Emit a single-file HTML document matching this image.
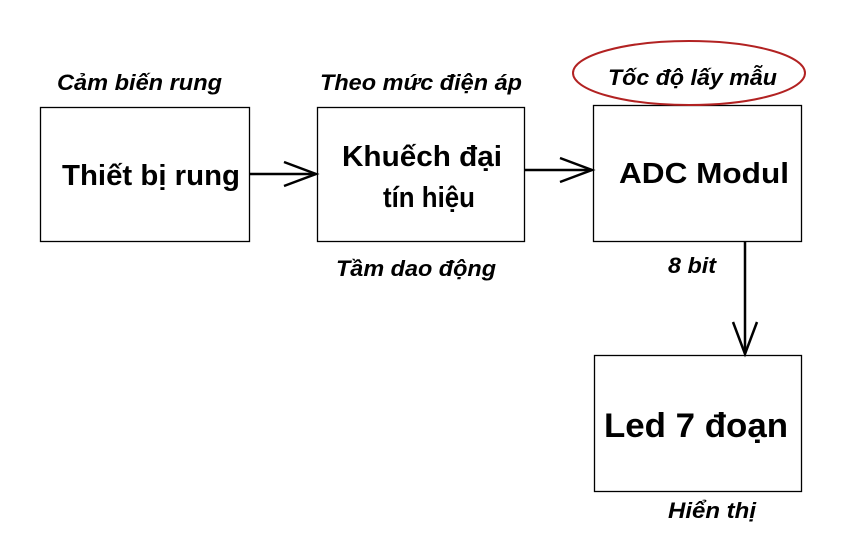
<!DOCTYPE html>
<html><head><meta charset="utf-8"><style>
body{margin:0;background:#fff;width:846px;height:554px;overflow:hidden}
svg{display:block}
.b{font-family:"Liberation Sans",sans-serif;font-weight:bold;font-size:29px;fill:#000}
.l{font-family:"Liberation Sans",sans-serif;font-weight:bold;font-style:italic;font-size:22px;fill:#000}
</style></head><body>
<svg width="846" height="554" viewBox="0 0 846 554">
<g fill="none" stroke="#000" stroke-width="1.3">
<rect x="40.5" y="107.5" width="209" height="134"/>
<rect x="317.5" y="107.5" width="207" height="134"/>
<rect x="593.5" y="105.5" width="208" height="136"/>
<rect x="594.5" y="355.5" width="207" height="136"/>
</g>
<g fill="none" stroke="#000" stroke-width="2.5">
<line x1="250" y1="174" x2="316" y2="174"/>
<polyline points="284,162 316,174 284,186"/>
<line x1="525" y1="170" x2="592" y2="170"/>
<polyline points="560,158 592,170 560,182"/>
<line x1="745" y1="242" x2="745" y2="354"/>
<polyline points="733,322 745,354 757,322"/>
</g>
<ellipse cx="689" cy="73" rx="116" ry="32" fill="none" stroke="#b22222" stroke-width="2"/>
<text class="l" x="57" y="90" textLength="165" lengthAdjust="spacingAndGlyphs">Cảm biến rung</text>
<text class="l" x="320" y="90" textLength="202" lengthAdjust="spacingAndGlyphs">Theo mức điện áp</text>
<text class="l" x="608" y="85" textLength="169" lengthAdjust="spacingAndGlyphs">Tốc độ lấy mẫu</text>
<text class="l" x="336" y="276" textLength="160" lengthAdjust="spacingAndGlyphs">Tầm dao động</text>
<text class="l" x="668" y="273" textLength="48" lengthAdjust="spacingAndGlyphs">8 bit</text>
<text class="l" x="668" y="518" textLength="88" lengthAdjust="spacingAndGlyphs">Hiển thị</text>
<text class="b" x="62" y="185" textLength="178" lengthAdjust="spacingAndGlyphs">Thiết bị rung</text>
<text class="b" x="342" y="166" textLength="160" lengthAdjust="spacingAndGlyphs">Khuếch đại</text>
<text class="b" x="383" y="207" textLength="92" lengthAdjust="spacingAndGlyphs">tín hiệu</text>
<text class="b" x="619" y="183" textLength="170" lengthAdjust="spacingAndGlyphs">ADC Modul</text>
<text class="b" x="604" y="437" style="font-size:34px" textLength="184" lengthAdjust="spacingAndGlyphs">Led 7 đoạn</text>
</svg>
</body></html>
